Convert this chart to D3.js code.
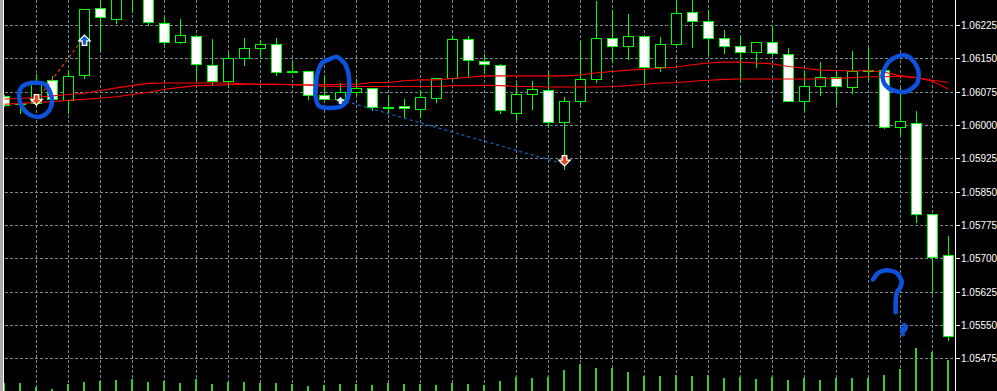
<!DOCTYPE html>
<html><head><meta charset="utf-8">
<script src="https://cdn.jsdelivr.net/npm/d3@7"></script>
<style>html,body{margin:0;padding:0;background:#000;overflow:hidden}svg{display:block}</style>
</head><body><svg id="c" width="997" height="391"></svg>
<script>
// ---- data (EURUSD-like candles) ----
const opens = [1.06067,1.06051,1.06051,1.06103,1.06058,1.06114,1.06264,1.06241,1.06310,1.06301,
 1.06231,1.06189,1.06202,1.06136,1.06100,1.06152,1.06174,1.06183,1.06122,1.06123,
 1.06068,1.06060,1.06075,1.06084,1.06043,1.06045,1.06037,1.06063,1.06107,1.06195,
 1.06145,1.06136,1.06028,1.06071,1.06080,1.06008,1.06055,1.06105,1.06197,1.06179,
 1.06201,1.06131,1.06183,1.06255,1.06236,1.06197,1.06179,1.06165,1.06188,1.06161,
 1.06056,1.06089,1.06110,1.06087,1.06122,1.06126,1.05997,1.06006,1.05801,1.05709];
const highs = [1.06069,1.06054,1.06117,1.06112,1.06126,1.06263,1.06294,1.06301,1.06315,1.06306,
 1.06245,1.06240,1.06204,1.06195,1.06163,1.06198,1.06193,1.06198,1.06146,1.06123,
 1.06114,1.06096,1.06105,1.06084,1.06069,1.06060,1.06081,1.06108,1.06202,1.06202,
 1.06161,1.06138,1.06096,1.06101,1.06123,1.06065,1.06191,1.06281,1.06261,1.06252,
 1.06201,1.06199,1.06292,1.06292,1.06261,1.06216,1.06202,1.06189,1.06225,1.06174,
 1.06123,1.06144,1.06126,1.06167,1.06174,1.06126,1.06084,1.06033,1.05801,1.05752];
const lows = [1.06045,1.06029,1.06045,1.06058,1.06029,1.06108,1.06171,1.06231,1.06259,1.06227,
 1.06184,1.06186,1.06103,1.06092,1.06087,1.06137,1.06155,1.06114,1.06120,1.06060,
 1.06059,1.06059,1.06069,1.06036,1.06029,1.06018,1.06020,1.06054,1.06106,1.06110,
 1.06118,1.06028,1.06015,1.06038,1.05998,1.05902,1.06048,1.06099,1.06144,1.06150,
 1.06096,1.06122,1.06182,1.06178,1.06161,1.06164,1.06101,1.06131,1.06162,1.06055,
 1.06032,1.06069,1.06048,1.06073,1.06103,1.05995,1.05982,1.05782,1.05624,1.05518];
const closes = [1.06047,1.06050,1.06101,1.06060,1.06112,1.06262,1.06244,1.06297,1.06290,1.06233,
 1.06189,1.06204,1.06138,1.06100,1.06152,1.06174,1.06184,1.06120,1.06121,1.06068,
 1.06060,1.06075,1.06084,1.06043,1.06042,1.06039,1.06064,1.06107,1.06195,1.06147,
 1.06138,1.06035,1.06071,1.06082,1.06008,1.06055,1.06105,1.06197,1.06179,1.06201,
 1.06131,1.06183,1.06253,1.06235,1.06197,1.06179,1.06165,1.06188,1.06163,1.06056,
 1.06089,1.06110,1.06089,1.06122,1.06126,1.05996,1.06011,1.05801,1.05703,1.05527];
const volumes = [150,166,86,46,140,180,206,226,234,186,
 206,166,246,146,180,180,166,166,146,106,
 126,146,134,126,166,146,146,126,166,146,
 126,206,280,266,280,420,540,460,466,380,
 300,300,320,300,320,266,280,240,280,220,
 254,220,254,266,266,320,440,860,780,620];
const maFast = [1.06060,1.06061,1.06064,1.06067,1.06070,1.06073,1.06079,1.06085,1.06090,1.06095,
 1.06096,1.06096,1.06096,1.06096,1.06096,1.06094,1.06093,1.06093,1.06092,1.06092,
 1.06092,1.06093,1.06093,1.06097,1.06097,1.06101,1.06103,1.06103,1.06106,1.06109,
 1.06112,1.06112,1.06112,1.06112,1.06112,1.06112,1.06114,1.06119,1.06122,1.06125,
 1.06127,1.06129,1.06132,1.06137,1.06141,1.06143,1.06143,1.06141,1.06139,1.06133,
 1.06129,1.06125,1.06124,1.06123,1.06124,1.06120,1.06112,1.06108,1.06100,1.06082];
const maSlow = [1.06048,1.06050,1.06052,1.06054,1.06057,1.06059,1.06062,1.06065,1.06070,1.06075,
 1.06082,1.06086,1.06090,1.06091,1.06092,1.06093,1.06093,1.06093,1.06092,1.06091,
 1.06089,1.06088,1.06088,1.06088,1.06088,1.06088,1.06088,1.06088,1.06090,1.06090,
 1.06091,1.06090,1.06088,1.06088,1.06087,1.06087,1.06087,1.06087,1.06088,1.06090,
 1.06093,1.06096,1.06097,1.06100,1.06102,1.06104,1.06105,1.06105,1.06105,1.06105,
 1.06105,1.06105,1.06106,1.06108,1.06110,1.06110,1.06111,1.06108,1.06102,1.06097];
const priceTicks = [1.06225,1.06150,1.06075,1.06000,1.05925,1.05850,1.05775,1.05700,1.05625,1.05550,1.05475];
// trades: open/close bar index and price
const tradeOpenIdx = [2, 21];
const tradeOpenPx = [1.06057, 1.06058];
const tradeCloseIdx = [5, 35];
const tradeClosePx = [1.06200, 1.05913];
const tradeColor = ['#e4471e', '#1565c8'];

// ---- drawing ----
const W = 997, H = 391;
const svg = d3.select('#c');
const x = d3.scaleLinear().domain([0, 59]).range([4, 948]);
const y = d3.scaleLinear().domain([1.054, 1.063]).range([392, -7.6]);
const vh = d3.scaleLinear().domain([0, 1000]).range([0, 50]);
const idx = d3.range(opens.length);
const GREEN = '#00ff00', GRID = '#778899';

svg.append('rect').attr('width', W).attr('height', H).attr('fill', '#000');
const defs = svg.append('defs');
defs.append('clipPath').attr('id', 'plot').append('rect').attr('x', 4).attr('y', 0).attr('width', 951).attr('height', H);

const g = svg.append('g').attr('clip-path', 'url(#plot)');
// grid
g.selectAll('.hg').data(priceTicks).join('line')
  .attr('x1', 5).attr('x2', 955)
  .attr('y1', d => Math.floor(y(d)) + 0.5).attr('y2', d => Math.floor(y(d)) + 0.5)
  .attr('stroke', GRID).attr('stroke-dasharray', '3,2');
g.selectAll('.vg').data(d3.range(2, 59, 2)).join('line')
  .attr('x1', d => Math.round(x(d)) + 0.5).attr('x2', d => Math.round(x(d)) + 0.5)
  .attr('y1', 0).attr('y2', H)
  .attr('stroke', GRID).attr('stroke-dasharray', '3,2');

// volumes
g.selectAll('.vol').data(idx).join('rect')
  .attr('x', i => Math.round(x(i)) - 1).attr('width', 2)
  .attr('y', i => H - Math.round(vh(volumes[i]))).attr('height', i => Math.round(vh(volumes[i])))
  .attr('fill', '#32cd32');

// wicks
g.selectAll('.wick').data(idx).join('line')
  .attr('x1', i => Math.round(x(i)) + 0.5).attr('x2', i => Math.round(x(i)) + 0.5)
  .attr('y1', i => Math.round(y(highs[i]))).attr('y2', i => Math.round(y(lows[i])) + 1)
  .attr('stroke', GREEN).attr('stroke-width', 1);
// bodies
g.selectAll('.body').data(idx).join('rect')
  .attr('x', i => Math.round(x(i)) - 4.5).attr('width', 10)
  .attr('y', i => Math.round(y(Math.max(opens[i], closes[i]))) + 0.5)
  .attr('height', i => Math.max(1, Math.round(y(Math.min(opens[i], closes[i]))) - Math.round(y(Math.max(opens[i], closes[i])))))
  .attr('fill', i => closes[i] >= opens[i] ? '#000' : '#fff')
  .attr('stroke', GREEN).attr('stroke-width', 1);

// moving averages
const maLine = arr => d3.line().x(i => Math.round(x(i)) + 0.5).y(i => y(arr[i]))(idx);
[maFast, maSlow].forEach(arr => g.append('path').attr('d', maLine(arr))
  .attr('fill', 'none').attr('stroke', '#ff0000').attr('stroke-width', 1.1));

// trade lines
d3.range(tradeOpenIdx.length).forEach(k => {
  g.append('line')
    .attr('x1', x(tradeOpenIdx[k]) + 0.5).attr('y1', y(tradeOpenPx[k]))
    .attr('x2', x(tradeCloseIdx[k]) + 0.5).attr('y2', y(tradeClosePx[k]))
    .attr('stroke', tradeColor[k]).attr('stroke-width', 1.2).attr('stroke-dasharray', '3,3');
});

// arrows
const downArrow = 'M-2,-4 L2,-4 L2,0 L5,0 L0,5 L-5,0 L-2,0 Z';
const upArrow = 'M-2,4 L2,4 L2,0 L5,0 L0,-5 L-5,0 L-2,0 Z';
function arrow(path, i, p, dy, fill, s) {
  g.append('path').attr('d', path)
    .attr('transform', `translate(${Math.round(x(i)) + 0.5},${y(p) + dy}) scale(${s})`)
    .attr('fill', fill).attr('stroke', '#fff').attr('stroke-width', 1.1);
}
arrow(downArrow, tradeOpenIdx[0], tradeOpenPx[0], -1, '#e8451c', 1.15);
arrow(upArrow, tradeCloseIdx[0], tradeClosePx[0], 4, '#1a5fd0', 1.15);
arrow(upArrow, tradeOpenIdx[1], tradeOpenPx[1], 1, '#dfe8ff', 0.7);
arrow(downArrow, tradeCloseIdx[1], tradeClosePx[1], -4, '#e8451c', 1.15);

// hand-drawn annotations (anchored to bars/prices, offsets in px)
const BLUE = '#0d52dc';
const closed = d3.line().curve(d3.curveCardinalClosed.tension(0.2));
const open = d3.line().curve(d3.curveCardinal.tension(0.2));
function scribble(i, p, pts, isClosed, w) {
  const ax = x(i), ay = y(p);
  g.append('path').attr('d', (isClosed ? closed : open)(pts.map(d => [ax + d[0], ay + d[1]])))
    .attr('fill', 'none').attr('stroke', BLUE).attr('stroke-width', w)
    .attr('stroke-linecap', 'round').attr('stroke-linejoin', 'round');
}
scribble(2, 1.06058, [[-14,-13],[-4,-17],[8,-16],[14,-8],[16,3],[12,12],[4,17],[-6,15],[-14,7],[-17,-4]], true, 4.5);
scribble(21, 1.06096, [[-23,-8],[-18,-20],[-10,-24],[-3,-26],[5,-19],[9,-6],[8.5,13],[2,23],[-10,25],[-21,23],[-24.5,13],[-24,2]], true, 4.5);
scribble(56, 1.06117, [[-17.5,1],[-12,-11],[-3,-17],[6,-18],[13,-13],[18.5,-2],[17,10],[6,18],[-6,17],[-15,11]], true, 4.5);
scribble(56, 1.05608, [[-27,-20],[-21.7,-26.7],[-13.3,-29.3],[-3.3,-26.7],[1.7,-18.3],[0,-11.7],[-3.3,-6.7],[-4.3,3.3],[-4.3,12.7]], false, 4.5);
scribble(56, 1.05608, [[4,25],[6,28],[4,31],[2,29],[3,35]], false, 4);

// left frame
svg.append('rect').attr('x', 0).attr('y', 0).attr('width', 3).attr('height', H).attr('fill', '#a8a8a8');
svg.append('rect').attr('x', 3).attr('y', 0).attr('width', 1).attr('height', H).attr('fill', '#ffffff');

// price axis
svg.append('line').attr('x1', 955.5).attr('x2', 955.5).attr('y1', 0).attr('y2', H).attr('stroke', '#fff');
const ax = svg.append('g');
ax.selectAll('line').data(priceTicks).join('line')
  .attr('x1', 955).attr('x2', 960)
  .attr('y1', d => Math.floor(y(d)) + 0.5).attr('y2', d => Math.floor(y(d)) + 0.5)
  .attr('stroke', '#fff');
ax.selectAll('text').data(priceTicks).join('text')
  .attr('x', 961).attr('y', d => Math.floor(y(d)) + 0.5).attr('dy', '0.35em')
  .attr('fill', '#fff').attr('font-family', 'Liberation Sans, Arial, sans-serif').attr('font-size', 10)
  .text(d => d3.format('.5f')(d));
</script></body></html>
